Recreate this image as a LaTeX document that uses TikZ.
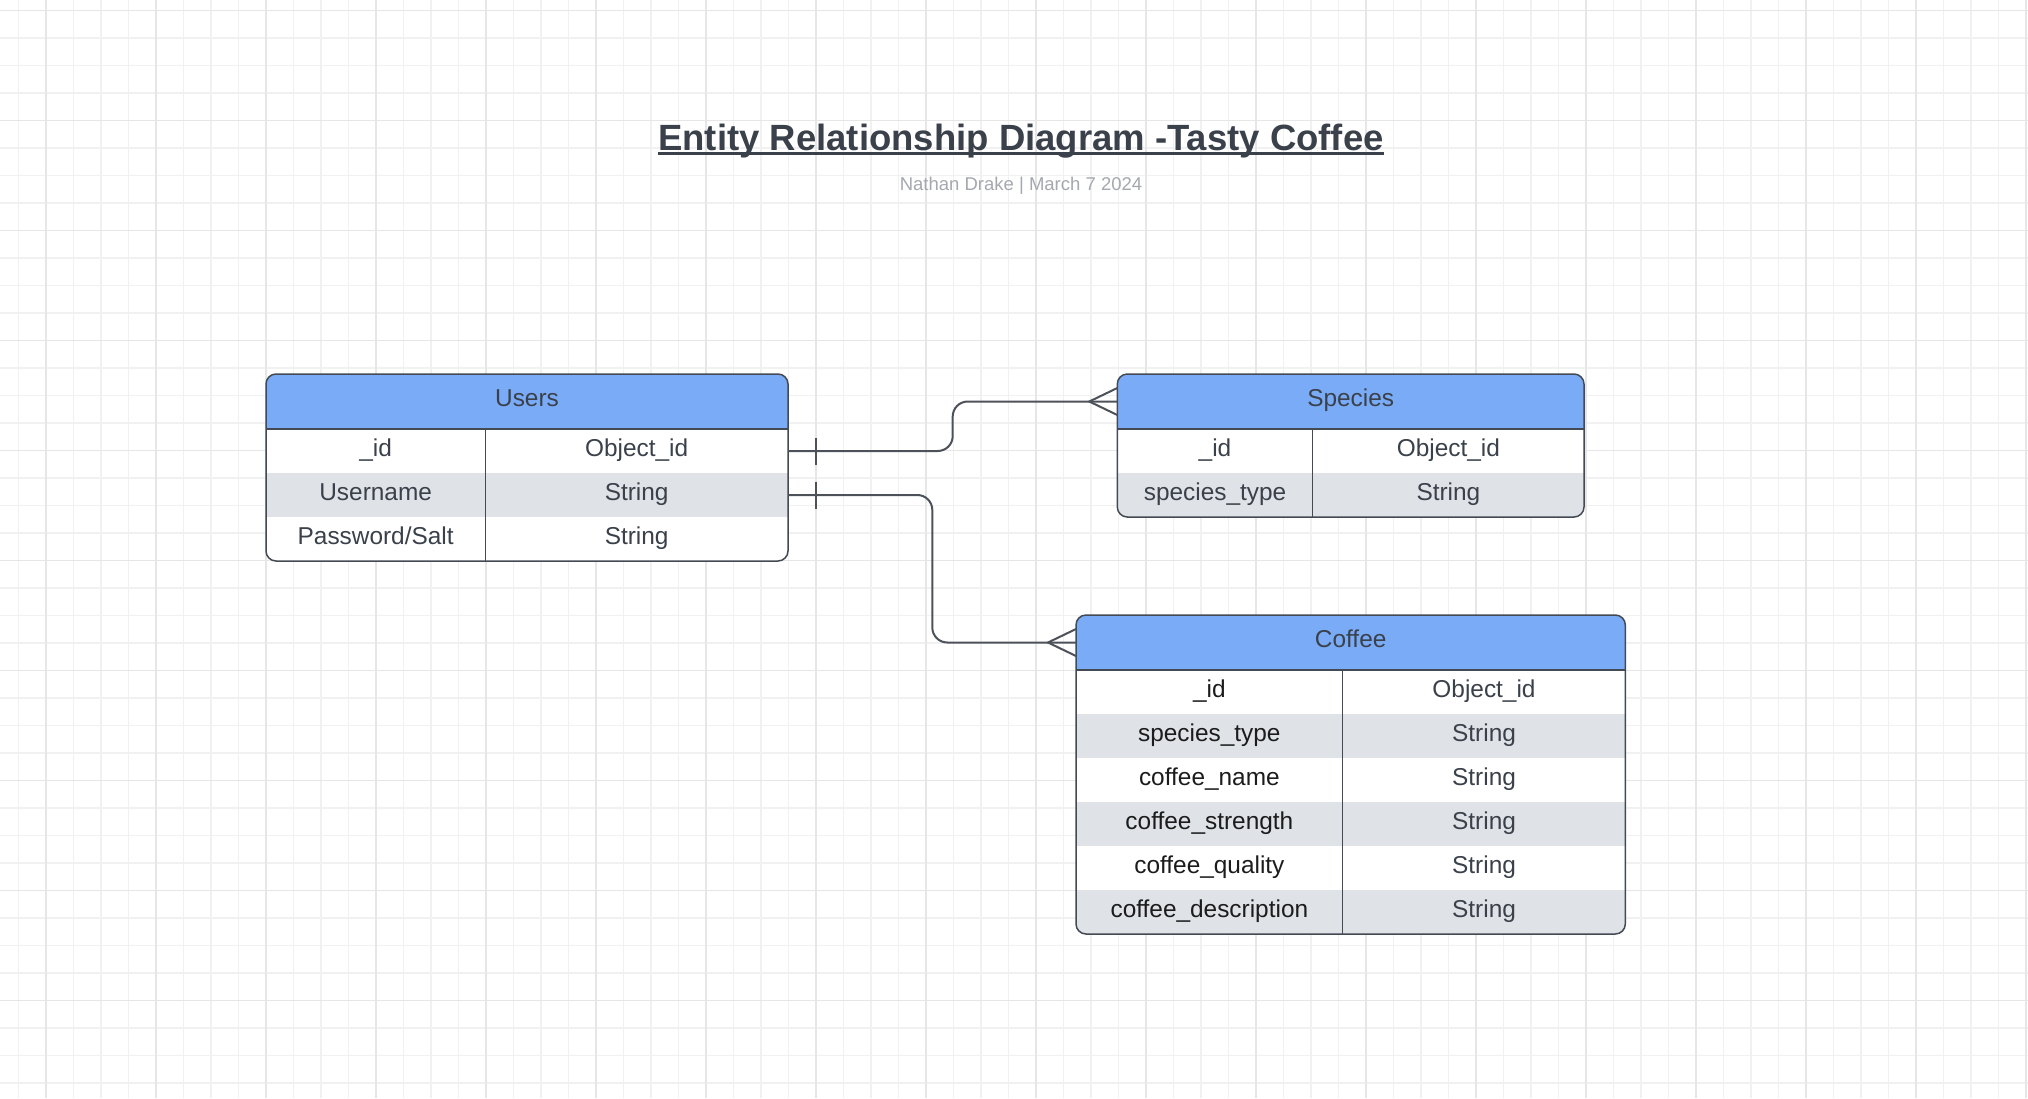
\documentclass[tikz,border=0pt]{standalone}
\usepackage{fontspec}
\setmainfont{Liberation Sans}
\definecolor{hdrblue}{HTML}{7AABF7}
\definecolor{rowgray}{HTML}{DFE2E7}
\definecolor{ink}{HTML}{3A414A}
\definecolor{keyink}{HTML}{1C1C1C}
\definecolor{edge}{HTML}{434A54}
\definecolor{wire}{HTML}{4D525A}
\definecolor{subink}{HTML}{A4A8AF}
\definecolor{gridminor}{HTML}{F1F1F1}
\definecolor{gridmajor}{HTML}{E6E6E6}

\begin{document}
\begin{tikzpicture}[x=1pt, y=-1pt,
    every node/.style={inner sep=0pt, outer sep=0pt},
    cell/.style={anchor=north west, minimum height=44pt, text height=17.5pt,
        text depth=7pt, font=\fontsize{24.4}{29}\selectfont, text=ink},
    hdr/.style={cell, minimum height=55pt, fill=hdrblue},
    alt/.style={fill=rowgray},
    tbl/.style={draw=edge, line width=1.5pt},
    rel/.style={draw=wire, line width=2pt, rounded corners=15pt},
    crow/.style={draw=wire, line width=2pt, sharp corners}]
    \useasboundingbox (0,0) rectangle (2028,1098);

    % Fondo cuadriculado.
    \fill[white] (0,0) rectangle (2028,1098);
    \foreach \x in {18.5,46,...,2028} \draw[gridminor, line width=1.2pt] (\x,0) -- (\x,1098);
    \foreach \y in {10.5,38,...,1098} \draw[gridminor, line width=1.2pt] (0,\y) -- (2028,\y);
    \foreach \x in {46,156,...,2028} \draw[gridmajor, line width=1.2pt] (\x,0) -- (\x,1098);
    \foreach \y in {10.5,120.5,...,1098} \draw[gridmajor, line width=1.2pt] (0,\y) -- (2028,\y);

    % Titulo y autor.
    \node[font=\bfseries\fontsize{36.5}{44}\selectfont, text=ink, anchor=base] (title)
        at (1021,150) {Entity Relationship Diagram -Tasty Coffee};
    \draw[ink, line width=3pt] ([yshift=-3.3pt]title.base west) -- ([yshift=-3.3pt]title.base east);
    \node[font=\fontsize{18.5}{22}\selectfont, text=subink, anchor=base] (byline)
        at (1021,190.7) {Nathan Drake | March 7 2024};

    % Tabla Users.
    \begin{scope}
        \clip[rounded corners=10pt] (266,374) rectangle (788,561);
        \fill[white] (266,374) rectangle (788,561);
        \node[hdr, minimum width=522pt] (users) at (266,374) {Users};
        \node[cell, minimum width=219.3pt] (users-k1) at (266,429) {\_id};
        \node[cell, minimum width=302.7pt] (users-t1) at (485.3,429) {Object\_id};
        \node[cell, alt, minimum width=219.3pt] (users-k2) at (266,473) {Username};
        \node[cell, alt, minimum width=302.7pt] (users-t2) at (485.3,473) {String};
        \node[cell, minimum width=219.3pt] (users-k3) at (266,517) {Password/Salt};
        \node[cell, minimum width=302.7pt] (users-t3) at (485.3,517) {String};
    \end{scope}
    \draw[tbl, rounded corners=10pt] (266,374) rectangle (788,561);
    \draw[tbl] (users.south west) -- (users.south east)
        (users-k1.north east) -- (users-k3.south east);

    % Tabla Species.
    \begin{scope}
        \clip[rounded corners=10pt] (1117.3,374) rectangle (1584,517);
        \fill[white] (1117.3,374) rectangle (1584,517);
        \node[hdr, minimum width=466.7pt] (species) at (1117.3,374) {Species};
        \node[cell, minimum width=195.4pt] (species-k1) at (1117.3,429) {\_id};
        \node[cell, minimum width=271.3pt] (species-t1) at (1312.7,429) {Object\_id};
        \node[cell, alt, minimum width=195.4pt] (species-k2) at (1117.3,473) {species\_type};
        \node[cell, alt, minimum width=271.3pt] (species-t2) at (1312.7,473) {String};
    \end{scope}
    \draw[tbl, rounded corners=10pt] (1117.3,374) rectangle (1584,517);
    \draw[tbl] (species.south west) -- (species.south east)
        (species-k1.north east) -- (species-k2.south east);

    % Tabla Coffee.
    \begin{scope}
        \clip[rounded corners=10pt] (1076,615) rectangle (1625.3,934);
        \fill[white] (1076,615) rectangle (1625.3,934);
        \node[hdr, minimum width=549.3pt] (coffee) at (1076,615) {Coffee};
        \node[cell, text=keyink, minimum width=266.7pt] (coffee-k1) at (1076,670) {\_id};
        \node[cell, minimum width=282.6pt] (coffee-t1) at (1342.7,670) {Object\_id};
        \node[cell, alt, text=keyink, minimum width=266.7pt] (coffee-k2) at (1076,714) {species\_type};
        \node[cell, alt, minimum width=282.6pt] (coffee-t2) at (1342.7,714) {String};
        \node[cell, text=keyink, minimum width=266.7pt] (coffee-k3) at (1076,758) {coffee\_name};
        \node[cell, minimum width=282.6pt] (coffee-t3) at (1342.7,758) {String};
        \node[cell, alt, text=keyink, minimum width=266.7pt] (coffee-k4) at (1076,802) {coffee\_strength};
        \node[cell, alt, minimum width=282.6pt] (coffee-t4) at (1342.7,802) {String};
        \node[cell, text=keyink, minimum width=266.7pt] (coffee-k5) at (1076,846) {coffee\_quality};
        \node[cell, minimum width=282.6pt] (coffee-t5) at (1342.7,846) {String};
        \node[cell, alt, text=keyink, minimum width=266.7pt] (coffee-k6) at (1076,890) {coffee\_description};
        \node[cell, alt, minimum width=282.6pt] (coffee-t6) at (1342.7,890) {String};
    \end{scope}
    \draw[tbl, rounded corners=10pt] (1076,615) rectangle (1625.3,934);
    \draw[tbl] (coffee.south west) -- (coffee.south east)
        (coffee-k1.north east) -- (coffee-k6.south east);

    % Relaciones uno a muchos.
    \draw[rel] (users-t1.east) -- ++(164.7,0) |- (species.west);
    \draw[crow] ([xshift=28pt,yshift=13.5pt]users-t1.east) -- ([xshift=28pt,yshift=-13.5pt]users-t1.east);
    \draw[crow] ([yshift=13.5pt]species.west) -- ([xshift=-28pt]species.west) -- ([yshift=-13.5pt]species.west);

    \draw[rel] (users-t2.east) -- ++(144.3,0) |- (coffee.west);
    \draw[crow] ([xshift=28pt,yshift=13.5pt]users-t2.east) -- ([xshift=28pt,yshift=-13.5pt]users-t2.east);
    \draw[crow] ([yshift=13.5pt]coffee.west) -- ([xshift=-28pt]coffee.west) -- ([yshift=-13.5pt]coffee.west);
\end{tikzpicture}
\end{document}
